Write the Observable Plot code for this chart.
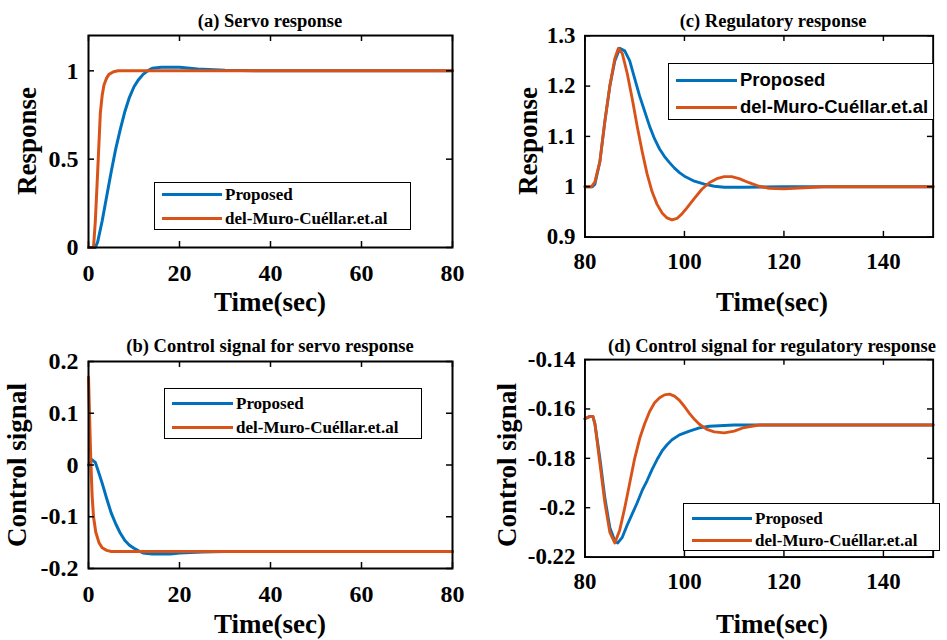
<!DOCTYPE html>
<html><head><meta charset="utf-8">
<script src="https://cdn.jsdelivr.net/npm/d3@7"></script>
<script src="https://cdn.jsdelivr.net/npm/@observablehq/plot@0.6"></script>
<style>
html,body{margin:0;padding:0;background:#fff;overflow:hidden;width:947px;height:640px}
#fig{position:relative;width:947px;height:640px;overflow:hidden}
.abs{position:absolute;white-space:nowrap;line-height:1}
.abs svg, .abs svg text{font-family:"Liberation Serif",serif !important;font-weight:bold}
.title{font-family:"Liberation Serif",serif;font-weight:bold;font-size:18.5px;transform:translateX(-50%)}
.xlab{font-family:"Liberation Serif",serif;font-weight:bold;font-size:27px;transform:translateX(-50%)}
.ylab{font-family:"Liberation Serif",serif;font-weight:bold;font-size:27px;transform:translate(-50%,-50%) rotate(-90deg)}
.legend{border:1.5px solid #000;background:#fff;box-sizing:border-box}
.leg-row{position:absolute;display:flex;align-items:center}
.leg-line{height:3px;display:inline-block}
.leg-text{font-family:"Liberation Serif",serif;font-weight:bold;font-size:17px;margin-left:3px}
.sans .leg-text{font-family:"Liberation Sans",Arial,sans-serif;font-size:18.5px}
</style>
</head><body><div id="fig"></div>
<script>
// ---------- data ----------
const seriesNames = ["Proposed", "del-Muro-Cuéllar.et.al"];
const seriesColors = ["#0072BD", "#D95319"];

// (a) Servo response
const servoTimeBlue = [0,1.5,2,3,4,5,6,7,8,9,10,11,12,13,14,16,20,24,30,40,80];
const servoBlue     = [0,0,0.03,0.15,0.29,0.43,0.56,0.67,0.77,0.85,0.91,0.95,0.98,1.0,1.015,1.02,1.02,1.01,1.003,1,1];
const servoTimeOrange = [0,1.1,1.5,2,2.6,3,3.4,4,4.5,5.5,6.5,80];
const servoOrange     = [0,0,0.15,0.42,0.76,0.86,0.92,0.96,0.98,0.995,1,1];

// (b) Control signal for servo response
const ctrlTimeBlue = [0,0.8,1.5,2,3,4,5,6,7,8,9,10,11,12,14,18,20,25,30,80];
const ctrlBlue     = [0,0.01,0.005,-0.008,-0.035,-0.065,-0.093,-0.114,-0.132,-0.146,-0.155,-0.161,-0.166,-0.17,-0.172,-0.172,-0.17,-0.168,-0.167,-0.167];
const ctrlTimeOrange = [0,0.25,0.5,0.8,1.1,1.6,2.3,3,4,5,80];
const ctrlOrange     = [0.17,0.09,0.01,-0.06,-0.1,-0.13,-0.15,-0.16,-0.165,-0.167,-0.167];

// (c) Regulatory response
const regTimeBlue = [80,81.5,82,83,84,85,86,87,88,89,90,91,92,93,94,95,96,97,98,99,100,102,104,106,108,112,120,150];
const regBlue     = [1,1,1.005,1.05,1.13,1.2,1.25,1.275,1.27,1.25,1.215,1.18,1.15,1.12,1.095,1.075,1.06,1.048,1.037,1.028,1.021,1.011,1.005,1.001,0.999,0.999,1,1];
const regTimeOrange = [80,81.3,82,83,84,85,86,86.7,87.5,88.5,89.5,90.5,91.5,92.5,93.5,94.5,95.5,96.5,97.5,98.5,99.5,100.5,102,103.5,105,106.5,108,109.5,111,113,115,117,120,124,128,150];
const regOrange     = [1,1,1.01,1.05,1.13,1.2,1.255,1.275,1.265,1.225,1.175,1.12,1.07,1.025,0.99,0.965,0.948,0.938,0.934,0.937,0.946,0.958,0.977,0.995,1.008,1.016,1.02,1.02,1.016,1.008,1.001,0.997,0.996,0.998,1,1];

// (d) Control signal for regulatory response
const rctlTimeBlue = [80,81,81.6,82,83,84,85,86,86.6,87.5,88.5,89.5,90.5,91.5,92.5,93.5,94.5,95.5,96.5,97.5,99,101,103,105,110,150];
const rctlBlue     = [-0.164,-0.163,-0.163,-0.166,-0.18,-0.196,-0.208,-0.2135,-0.2143,-0.212,-0.207,-0.2025,-0.198,-0.193,-0.189,-0.1845,-0.1805,-0.177,-0.1745,-0.1725,-0.1705,-0.169,-0.1677,-0.167,-0.1665,-0.1665];
const rctlTimeOrange = [80,81,81.6,82,83,84,85,86,87,88,89,90,91,92,93,94,95,96,97,98,99,100,101,102,103,104.5,106,108,110,112,115,150];
const rctlOrange     = [-0.164,-0.163,-0.163,-0.166,-0.182,-0.198,-0.21,-0.2143,-0.209,-0.2,-0.19,-0.18,-0.172,-0.166,-0.161,-0.1575,-0.1555,-0.1543,-0.154,-0.1548,-0.1565,-0.159,-0.1618,-0.1642,-0.1662,-0.1683,-0.1693,-0.1697,-0.169,-0.1675,-0.1665,-0.1665];

// ticks
const servoXTicks = [0,20,40,60,80];
const regXTicks = [80,100,120,140];
const servoYTicks = [0,0.5,1];
const ctrlYTicks = [-0.2,-0.1,0,0.1,0.2];
const regYTicks = [0.9,1,1.1,1.2,1.3];
const rctlYTicks = [-0.22,-0.2,-0.18,-0.16,-0.14];

const titles = ["(a) Servo response","(b) Control signal for servo response","(c) Regulatory response","(d) Control signal for regulatory response"];
const xLabel = "Time(sec)";
const yLabels = ["Response","Control signal","Response","Control signal"];

// ---------- drawing ----------
const fig = document.getElementById("fig");
const fmt = d => String(d);
const TICK = 6; // inward tick length in px
const SERIF = "Liberation Serif";

function panel(cfg) {
  const fw = cfg.w - cfg.ml - cfg.mr, fh = cfg.h - cfg.mt - cfg.mb;
  const [x0, x1] = cfg.xDomain, [y0, y1] = cfg.yDomain;
  const dx = (x1 - x0) * TICK / fw, dy = (y1 - y0) * TICK / fh;
  const p = Plot.plot({
    width: cfg.w, height: cfg.h,
    marginLeft: cfg.ml, marginRight: cfg.mr, marginTop: cfg.mt, marginBottom: cfg.mb,
    x: {domain: cfg.xDomain},
    y: {domain: cfg.yDomain},
    style: {fontFamily: SERIF, fontSize: "24px", fontWeight: "bold", color: "#000", background: "transparent", overflow: "visible"},
    marks: [
      Plot.lineY(cfg.blue, {x: cfg.tBlue, y: d => d, stroke: seriesColors[0], strokeWidth: 3}),
      Plot.lineY(cfg.orange, {x: cfg.tOrange, y: d => d, stroke: seriesColors[1], strokeWidth: 3}),
      // inward ticks on all four sides
      Plot.ruleX(cfg.xTicks, {x: d => d, y1: y0, y2: y0 + dy, stroke: "#000", strokeWidth: 1.5}),
      Plot.ruleX(cfg.xTicks, {x: d => d, y1: y1, y2: y1 - dy, stroke: "#000", strokeWidth: 1.5}),
      Plot.ruleY(cfg.yTicks, {y: d => d, x1: x0, x2: x0 + dx, stroke: "#000", strokeWidth: 1.5}),
      Plot.ruleY(cfg.yTicks, {y: d => d, x1: x1, x2: x1 - dx, stroke: "#000", strokeWidth: 1.5}),
      Plot.axisX({anchor: "bottom", ticks: cfg.xTicks, tickSize: 0, tickPadding: 16, tickFormat: fmt, label: null, fontFamily: SERIF, fontWeight: "bold", fontSize: 24}),
      Plot.axisY({anchor: "left", ticks: cfg.yTicks, tickSize: 0, tickPadding: 10, tickFormat: fmt, label: null, fontFamily: SERIF, fontWeight: "bold", fontSize: 24}),
      Plot.frame({stroke: "#000", strokeWidth: 2})
    ]
  });
  const wrap = document.createElement("div");
  wrap.className = "abs";
  wrap.style.left = cfg.left + "px";
  wrap.style.top = cfg.top + "px";
  wrap.appendChild(p);
  fig.appendChild(wrap);
}

function text(cls, str, x, y) {
  const d = document.createElement("div");
  d.className = "abs " + cls;
  d.textContent = str;
  d.style.left = x + "px";
  d.style.top = y + "px";
  fig.appendChild(d);
}

function legend(x, y, w, h, rows, lineX, lineW, sans) {
  const box = document.createElement("div");
  box.className = "abs legend" + (sans ? " sans" : "");
  Object.assign(box.style, {left: x + "px", top: y + "px", width: w + "px", height: h + "px"});
  seriesNames.forEach((name, i) => {
    const r = document.createElement("div");
    r.className = "leg-row";
    r.style.left = lineX + "px";
    r.style.top = (rows[i] - 10) + "px";
    r.style.height = "20px";
    r.innerHTML = `<span class="leg-line" style="width:${lineW}px;background:${seriesColors[i]}"></span><span class="leg-text">${name}</span>`;
    box.appendChild(r);
  });
  fig.appendChild(box);
}

panel({left: 0, top: 0, w: 470, h: 320, ml: 88, mr: 18, mt: 35, mb: 73,
  xDomain: [0, 80], yDomain: [0, 1.2], xTicks: servoXTicks, yTicks: servoYTicks,
  tBlue: servoTimeBlue, blue: servoBlue, tOrange: servoTimeOrange, orange: servoOrange});
panel({left: 0, top: 320, w: 470, h: 320, ml: 88, mr: 18, mt: 41, mb: 72,
  xDomain: [0, 80], yDomain: [-0.2, 0.2], xTicks: servoXTicks, yTicks: ctrlYTicks,
  tBlue: ctrlTimeBlue, blue: ctrlBlue, tOrange: ctrlTimeOrange, orange: ctrlOrange});
panel({left: 470, top: 0, w: 500, h: 320, ml: 120, mr: 15, mt: 37, mb: 72,
  xDomain: [80, 150], yDomain: [0.9, 1.3], xTicks: regXTicks, yTicks: regYTicks,
  tBlue: regTimeBlue, blue: regBlue, tOrange: regTimeOrange, orange: regOrange});
panel({left: 470, top: 320, w: 500, h: 320, ml: 120, mr: 15, mt: 41, mb: 72,
  xDomain: [80, 150], yDomain: [-0.22, -0.14], xTicks: regXTicks, yTicks: rctlYTicks,
  tBlue: rctlTimeBlue, blue: rctlBlue, tOrange: rctlTimeOrange, orange: rctlOrange});

// titles
text("title", titles[0], 270, 12);
text("title", titles[1], 270, 337);
text("title", titles[2], 773, 12);
text("title", titles[3], 772, 337);
// x labels
text("xlab", xLabel, 270, 289);
text("xlab", xLabel, 270, 611);
text("xlab", xLabel, 772, 289);
text("xlab", xLabel, 772, 611);
// y labels
text("ylab", yLabels[0], 27, 141);
text("ylab", yLabels[1], 17, 465);
text("ylab", yLabels[2], 528, 141);
text("ylab", yLabels[3], 507, 465);

// legends
legend(154, 182, 257, 48, [11, 35], 7, 60, false);
legend(164, 388, 258, 51, [14, 38], 7, 61, false);
legend(668, 63, 266, 57, [16, 43], 7, 61, true);
legend(683, 503, 257, 48, [14, 36], 8, 60, false);
</script></body></html>
